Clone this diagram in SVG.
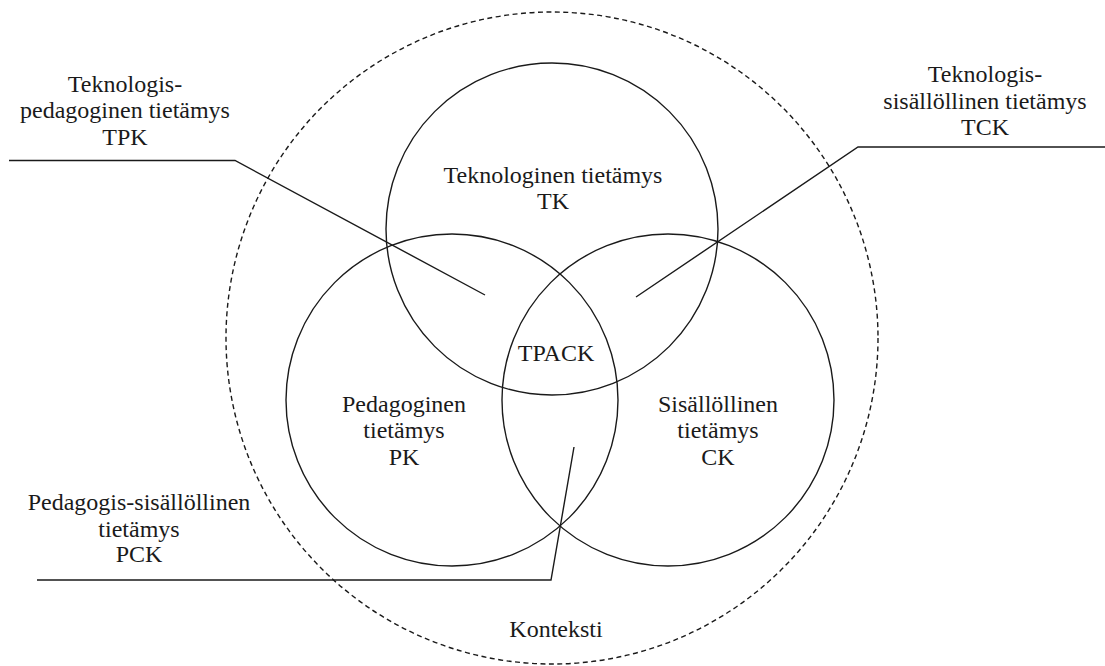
<svg xmlns="http://www.w3.org/2000/svg" width="1105" height="666" viewBox="0 0 1105 666">
<style>
.c{fill:none;stroke:#1a1a1a;stroke-width:1.4}
.d{fill:none;stroke:#1a1a1a;stroke-width:1.4;stroke-dasharray:5 3.5}
.l{fill:none;stroke:#1a1a1a;stroke-width:1.4}
text{font-family:"Liberation Serif","Times New Roman",serif;font-size:24px;fill:#1a1a1a;text-anchor:middle}
</style>
<rect width="1105" height="666" fill="#fff"/>
<g id="context">
<circle class="d" cx="552" cy="338" r="326"/>
<text x="556" y="637">Konteksti</text>
</g>
<g id="TK">
<circle class="c" cx="552" cy="229" r="166"/>
<text x="553" y="183">Teknologinen tietämys</text>
<text x="553" y="209">TK</text>
</g>
<g id="PK">
<circle class="c" cx="452" cy="400" r="166"/>
<text x="404" y="412">Pedagoginen</text>
<text x="404" y="438">tietämys</text>
<text x="404" y="465">PK</text>
</g>
<g id="CK">
<circle class="c" cx="668" cy="400" r="166"/>
<text x="718" y="412">Sisällöllinen</text>
<text x="718" y="438">tietämys</text>
<text x="718" y="465">CK</text>
</g>
<g id="TPACK">
<text x="556" y="361">TPACK</text>
</g>
<g id="TPK">
<text x="125" y="92">Teknologis-</text>
<text x="125" y="118">pedagoginen tietämys</text>
<text x="125" y="145">TPK</text>
</g>
<g id="TCK">
<text x="985" y="82">Teknologis-</text>
<text x="985" y="109">sisällöllinen tietämys</text>
<text x="985" y="135">TCK</text>
</g>
<g id="PCK">
<text x="139" y="510">Pedagogis-sisällöllinen</text>
<text x="139" y="537">tietämys</text>
<text x="139" y="562">PCK</text>
</g>
<g id="connectors">
<polyline class="l" points="9,160.5 235,160.5 485,295"/>
<polyline class="l" points="1105,147 858,147 636,297"/>
<polyline class="l" points="37,580 551,580 574,447"/>
</g>
</svg>
